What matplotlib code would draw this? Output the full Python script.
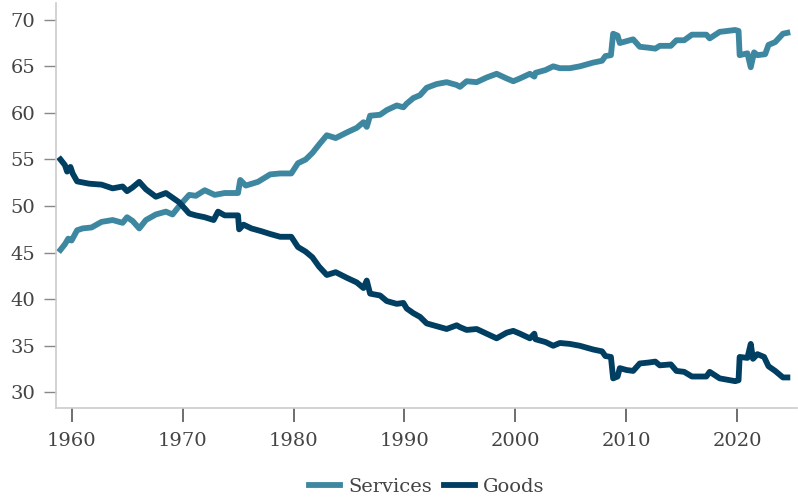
import matplotlib
matplotlib.use('Agg')
import matplotlib.pyplot as plt

## Share of spending: services vs goods (%)
services_yr = [1959.0, 1959.4, 1959.7, 1960.0, 1960.5, 1961.0, 1961.8, 1962.7, 1963.7, 1964.6,
               1965.0, 1965.5, 1966.1, 1966.7, 1967.6, 1968.5, 1969.1, 1969.7, 1970.6, 1971.2,
               1972.0, 1972.9, 1973.8, 1975.0, 1975.2, 1975.7, 1976.8, 1977.9, 1978.8, 1979.8,
               1980.4, 1981.1, 1981.7, 1982.3, 1983.0, 1983.8, 1984.8, 1985.7, 1986.3, 1986.6,
               1986.9, 1987.8, 1988.4, 1989.3, 1989.9, 1990.2, 1990.8, 1991.4, 1992.0, 1992.9,
               1993.8, 1994.7, 1995.0, 1995.6, 1996.5, 1997.4, 1998.3, 1999.2, 1999.8, 2000.4,
               2001.3, 2001.7, 2001.8, 2002.7, 2003.4, 2004.0, 2004.9, 2005.8, 2007.0, 2007.8,
               2008.1, 2008.6, 2008.8, 2009.2, 2009.4, 2010.0, 2010.6, 2011.2, 2012.0, 2012.6,
               2013.0, 2014.0, 2014.5, 2015.2, 2015.9, 2017.2, 2017.5, 2018.4, 2019.8, 2020.1,
               2020.2, 2020.9, 2021.2, 2021.5, 2021.8, 2022.5, 2022.8, 2023.4, 2024.1, 2024.5]
services = [45.3, 45.9, 46.5, 46.3, 47.4, 47.6, 47.7, 48.3, 48.5, 48.2,
            48.8, 48.4, 47.6, 48.5, 49.1, 49.4, 49.1, 50.0, 51.2, 51.1,
            51.7, 51.2, 51.4, 51.4, 52.8, 52.2, 52.6, 53.4, 53.5, 53.5,
            54.6, 55.0, 55.7, 56.6, 57.6, 57.3, 57.9, 58.4, 59.0, 58.5,
            59.7, 59.8, 60.3, 60.8, 60.6, 61.0, 61.6, 61.9, 62.7, 63.1,
            63.3, 63.0, 62.8, 63.4, 63.3, 63.8, 64.2, 63.7, 63.4, 63.7,
            64.2, 63.9, 64.3, 64.6, 65.0, 64.8, 64.8, 65.0, 65.4, 65.6,
            66.1, 66.2, 68.5, 68.3, 67.5, 67.7, 67.9, 67.1, 67.0, 66.9,
            67.2, 67.2, 67.8, 67.8, 68.4, 68.4, 68.0, 68.7, 68.9, 68.8,
            66.2, 66.4, 64.9, 66.5, 66.2, 66.3, 67.3, 67.6, 68.5, 68.6]

goods_yr = [1959.0, 1959.4, 1959.6, 1959.9, 1960.1, 1960.5, 1961.6, 1962.7, 1963.7, 1964.6,
            1965.0, 1965.5, 1966.1, 1966.7, 1967.6, 1968.5, 1969.1, 1969.7, 1970.6, 1971.2,
            1972.0, 1972.8, 1973.2, 1973.8, 1975.0, 1975.1, 1975.5, 1976.2, 1977.1, 1977.9,
            1978.8, 1979.8, 1980.4, 1981.1, 1981.7, 1982.3, 1983.0, 1983.8, 1984.8, 1985.7,
            1986.3, 1986.6, 1986.9, 1987.8, 1988.4, 1989.3, 1989.9, 1990.2, 1990.8, 1991.4,
            1992.0, 1992.9, 1993.8, 1994.7, 1995.0, 1995.6, 1996.5, 1997.4, 1998.3, 1999.2,
            1999.8, 2000.4, 2001.3, 2001.7, 2001.8, 2002.7, 2003.4, 2004.0, 2004.9, 2005.8,
            2007.0, 2007.8, 2008.1, 2008.6, 2008.8, 2009.2, 2009.4, 2010.0, 2010.6, 2011.2,
            2012.0, 2012.6, 2013.0, 2014.0, 2014.5, 2015.2, 2015.9, 2017.2, 2017.5, 2018.4,
            2019.8, 2020.1, 2020.2, 2020.9, 2021.2, 2021.4, 2021.8, 2022.4, 2022.8, 2023.4,
            2024.1, 2024.5]
goods = [55.0, 54.4, 53.7, 54.2, 53.5, 52.65, 52.4, 52.3, 51.9, 52.1,
         51.6, 52.0, 52.6, 51.8, 51.0, 51.4, 50.9, 50.4, 49.2, 49.0,
         48.8, 48.5, 49.4, 49.0, 49.0, 47.5, 48.0, 47.6, 47.3, 47.0,
         46.7, 46.7, 45.6, 45.1, 44.5, 43.5, 42.6, 42.9, 42.3, 41.8,
         41.2, 42.0, 40.6, 40.4, 39.8, 39.5, 39.6, 39.0, 38.5, 38.1,
         37.4, 37.1, 36.8, 37.2, 37.0, 36.7, 36.8, 36.3, 35.8, 36.4,
         36.6, 36.3, 35.8, 36.3, 35.7, 35.4, 35.0, 35.3, 35.2, 35.0,
         34.6, 34.4, 33.9, 33.8, 31.5, 31.7, 32.6, 32.4, 32.3, 33.1,
         33.2, 33.3, 32.9, 33.0, 32.3, 32.2, 31.7, 31.7, 32.2, 31.5,
         31.2, 31.3, 33.8, 33.7, 35.2, 33.6, 34.1, 33.8, 32.8, 32.3,
         31.6, 31.6]

x_ticks = [1960, 1970, 1980, 1990, 2000, 2010, 2020]
y_ticks = [30, 35, 40, 45, 50, 55, 60, 65, 70]

plt.rcParams['font.family'] = ['DejaVu Serif']

fig = plt.figure(figsize=(7.98, 4.99), dpi=100)
ax = fig.add_axes([0.0702, 0.182, 0.929, 0.812])

ax.plot(services_yr, services, color='#3E87A0', lw=4.2, label='Services', solid_joinstyle='round')
ax.plot(goods_yr, goods, color='#003F61', lw=4.2, label='Goods', solid_joinstyle='round')

ax.set_xlim(1958.6, 2025.4)
ax.set_ylim(28.3, 71.8)
ax.set_xticks(x_ticks)
ax.set_yticks(y_ticks)

for s in ['top', 'right']:
    ax.spines[s].set_visible(False)
for s in ['left', 'bottom']:
    ax.spines[s].set_color('#cccccc')
    ax.spines[s].set_linewidth(1.2)

ax.tick_params(axis='y', length=9, width=1, color='#888888', labelcolor='#444444',
               labelsize=14, pad=6)
ax.tick_params(axis='x', length=10, width=1.2, color='#555555', labelcolor='#444444',
               labelsize=14, pad=7)

leg = ax.legend(loc='center', bbox_to_anchor=(0.5, -0.195), ncol=2, frameon=False,
                fontsize=14, handlelength=1.6, handletextpad=0.4, columnspacing=0.6)
for t in leg.get_texts():
    t.set_color('#444444')

plt.savefig('out.png', dpi=100)
